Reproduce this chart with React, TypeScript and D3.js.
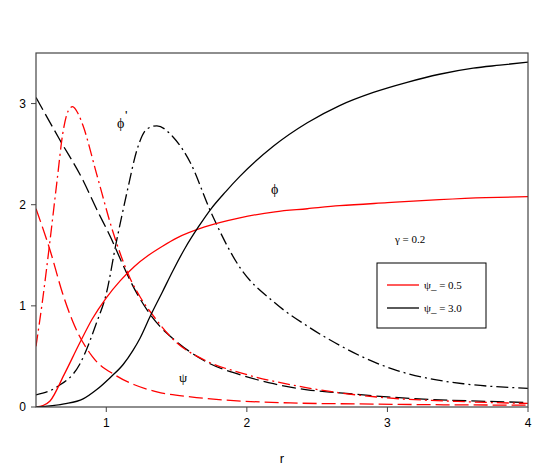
import React from "react";
import * as d3 from "d3";

const xTicks = [1, 2, 3, 4];
const yTicks = [0, 1, 2, 3];

// phi, psi_- = 0.5 (red solid)
const phiRedR = [0.5, 0.55, 0.6, 0.7, 0.81, 0.9, 1.0, 1.1, 1.2, 1.3, 1.4, 1.5, 1.7, 1.95, 2.2, 2.43, 2.66, 3.0, 3.37, 3.7, 4.0];
const phiRedY = [0, 0.015, 0.06, 0.32, 0.63, 0.87, 1.08, 1.25, 1.39, 1.5, 1.59, 1.67, 1.78, 1.87, 1.93, 1.96, 1.99, 2.02, 2.05, 2.07, 2.08];

// phi, psi_- = 3.0 (black solid)
const phiBlackR = [0.5, 0.7, 0.835, 0.93, 1.027, 1.12, 1.19, 1.24, 1.31, 1.4, 1.475, 1.56, 1.655, 1.74, 1.85, 1.95, 2.19, 2.43, 2.66, 2.9, 3.14, 3.37, 3.61, 3.8, 4.0];
const phiBlackY = [0, 0.03, 0.08, 0.17, 0.29, 0.42, 0.56, 0.68, 0.89, 1.14, 1.35, 1.57, 1.78, 1.95, 2.13, 2.28, 2.58, 2.81, 2.98, 3.11, 3.21, 3.29, 3.35, 3.38, 3.41];

// psi, psi_- = 0.5 (red dashed)
const psiRedR = [0.5, 0.6, 0.69, 0.76, 0.9, 1.07, 1.2, 1.36, 1.6, 1.83, 2.31, 2.8, 3.4, 4.0];
const psiRedY = [1.96, 1.55, 1.12, 0.85, 0.5, 0.31, 0.22, 0.15, 0.1, 0.07, 0.04, 0.03, 0.022, 0.018];

// psi, psi_- = 3.0 (black dashed)
const psiBlackR = [0.5, 0.67, 0.835, 0.93, 1.03, 1.12, 1.17, 1.29, 1.38, 1.48, 1.72, 1.95, 2.19, 2.43, 2.66, 3.0, 3.3, 3.65, 4.0];
const psiBlackY = [3.06, 2.64, 2.24, 1.96, 1.68, 1.4, 1.25, 0.96, 0.8, 0.67, 0.44, 0.32, 0.23, 0.17, 0.14, 0.1, 0.075, 0.058, 0.045];

// phi', psi_- = 0.5 (red dash-dot)
const dphiRedR = [0.5, 0.55, 0.6, 0.65, 0.69, 0.73, 0.76, 0.8, 0.835, 0.93, 1.05, 1.17, 1.24, 1.33, 1.475, 1.72, 1.95, 2.43, 2.66, 3.0, 3.5, 4.0];
const dphiRedY = [0.6, 1.09, 1.65, 2.24, 2.7, 2.93, 2.97, 2.9, 2.78, 2.31, 1.72, 1.27, 1.09, 0.91, 0.67, 0.45, 0.34, 0.19, 0.14, 0.09, 0.055, 0.035];

// phi', psi_- = 3.0 (black dash-dot)
const dphiBlackR = [0.5, 0.65, 0.81, 0.93, 1.0, 1.07, 1.15, 1.22, 1.29, 1.36, 1.475, 1.6, 1.74, 1.95, 2.19, 2.43, 2.66, 2.83, 3.07, 3.3, 3.54, 4.0];
const dphiBlackY = [0.12, 0.2, 0.42, 0.83, 1.12, 1.62, 2.14, 2.55, 2.75, 2.78, 2.67, 2.41, 1.94, 1.38, 1.04, 0.8, 0.61, 0.49, 0.36, 0.28, 0.23, 0.185];

const W = 557, H = 470;
const L = 36, R = 528, T = 53, B = 407;

export default function App() {
  const x = d3.scaleLinear().domain([0.5, 4]).range([L, R]);
  const y = d3.scaleLinear().domain([0, 3.5]).range([B, T]);
  const mk = (rs: number[], ys: number[]) =>
    d3.line<number>().x((_, i) => x(rs[i])).y((_, i) => y(ys[i])).curve(d3.curveMonotoneX)(rs) || "";
  const red = "#ff0000";
  const blk = "#000000";
  const dash = "14 5";
  const dashDot = "12 4 2 4";
  const axisColor = "#444";
  return (
    <svg width={W} height={H} style={{ position: "absolute", left: 0, top: 0, background: "#fff" }}>
      <defs>
        <clipPath id="plot">
          <rect x={L} y={T} width={R - L} height={B - T} />
        </clipPath>
      </defs>
      <g clipPath="url(#plot)" fill="none" strokeWidth={1.3}>
        <path d={mk(psiRedR, psiRedY)} stroke={red} strokeDasharray={dash} />
        <path d={mk(psiBlackR, psiBlackY)} stroke={blk} strokeDasharray={dash} />
        <path d={mk(dphiRedR, dphiRedY)} stroke={red} strokeDasharray={dashDot} />
        <path d={mk(dphiBlackR, dphiBlackY)} stroke={blk} strokeDasharray={dashDot} />
        <path d={mk(phiRedR, phiRedY)} stroke={red} />
        <path d={mk(phiBlackR, phiBlackY)} stroke={blk} />
      </g>
      <rect x={L} y={T} width={R - L} height={B - T} fill="none" stroke={axisColor} strokeWidth={1.2} />
      <g fontFamily="Liberation Sans, Arial, sans-serif" fontSize={12} fill="#000">
        {xTicks.map((t) => (
          <g key={"x" + t}>
            <line x1={x(t)} x2={x(t)} y1={B} y2={B + 5} stroke={axisColor} />
            <text x={x(t)} y={B + 20} textAnchor="middle">{t}</text>
          </g>
        ))}
        {yTicks.map((t) => (
          <g key={"y" + t}>
            <line x1={L - 5} x2={L} y1={y(t)} y2={y(t)} stroke={axisColor} />
            <text x={L - 10} y={y(t) + 4} textAnchor="end">{t}</text>
          </g>
        ))}
        <text x={282} y={463} textAnchor="middle" fontSize={13}>r</text>
      </g>
      <g fontFamily="Liberation Serif, Times New Roman, serif" fill="#000">
        <text x={117} y={128} fontSize={14}>ϕ</text>
        <text x={125} y={120} fontSize={13} fontFamily="Liberation Sans, Arial, sans-serif">'</text>
        <text x={271} y={194} fontSize={14}>ϕ</text>
        <text x={179} y={382} fontSize={13}>ψ</text>
        <text x={395} y={243} fontSize={11}>γ  = 0.2</text>
        <rect x={377} y={263} width={109} height={65} fill="#fff" stroke="#000" strokeWidth={1} />
        <line x1={387} x2={419} y1={285} y2={285} stroke={red} strokeWidth={1.3} />
        <line x1={387} x2={419} y1={308} y2={308} stroke={blk} strokeWidth={1.3} />
        <text x={424} y={289} fontSize={11}>ψ_  = 0.5</text>
        <text x={424} y={312} fontSize={11}>ψ_  = 3.0</text>
      </g>
    </svg>
  );
}
